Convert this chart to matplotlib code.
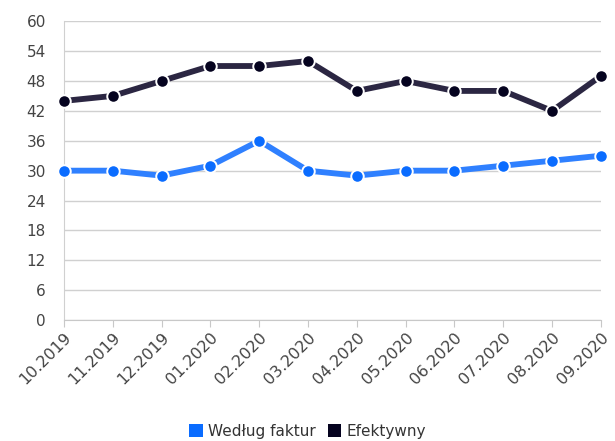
import numpy as np
import matplotlib.pyplot as plt
from matplotlib.patches import Patch

months = ['10.2019', '11.2019', '12.2019', '01.2020', '02.2020', '03.2020',
          '04.2020', '05.2020', '06.2020', '07.2020', '08.2020', '09.2020']
wedlug_faktur = [30, 30, 29, 31, 36, 30, 29, 30, 30, 31, 32, 33]
efektywny = [44, 45, 48, 51, 51, 52, 46, 48, 46, 46, 42, 49]
yticks = [0, 6, 12, 18, 24, 30, 36, 42, 48, 54, 60]

plt.rcParams['font.family'] = ['DejaVu Sans']

fig = plt.figure(figsize=(6.15, 4.41), dpi=100)
ax = fig.add_axes([0.104, 0.274, 0.873, 0.678])

x = np.arange(len(months))
ax.plot(x, efektywny, color='#2b2642', lw=4.2, marker='o', ms=9,
        mfc='#05031f', mec='white', mew=1.4, solid_capstyle='butt', zorder=3,
        clip_on=False)
ax.plot(x, wedlug_faktur, color='#2f80ff', lw=4.2, marker='o', ms=9,
        mfc='#0a6cff', mec='white', mew=1.4, solid_capstyle='butt', zorder=3,
        clip_on=False)

ax.set_xlim(0, len(months) - 1)
ax.set_ylim(0, 60)
ax.set_yticks(yticks)
ax.set_xticks(x)
ax.set_xticklabels(months, rotation=45, ha='right', rotation_mode='anchor')
ax.grid(axis='y', color='#d0d0d0', lw=1)
ax.set_axisbelow(True)
for s in ['top', 'right']:
    ax.spines[s].set_visible(False)
ax.spines['left'].set_color('#d0d0d0')
ax.spines['bottom'].set_color('#c8c8c8')
ax.tick_params(axis='y', length=0, labelsize=11, labelcolor='#444444', pad=13)
ax.tick_params(axis='x', length=5, color='#c8c8c8', labelsize=11.5,
               labelcolor='#444444', pad=2)

handles = [Patch(facecolor='#0a6cff', edgecolor='none', label='Według faktur'),
           Patch(facecolor='#05031f', edgecolor='none', label='Efektywny')]
fig.legend(handles=handles, loc='center', bbox_to_anchor=(0.5, 0.022),
           ncol=2, frameon=False, fontsize=11, handlelength=0.9,
           handleheight=0.9, handletextpad=0.3, columnspacing=0.8,
           labelcolor='#333333')

fig.savefig('out.png', dpi=100)
